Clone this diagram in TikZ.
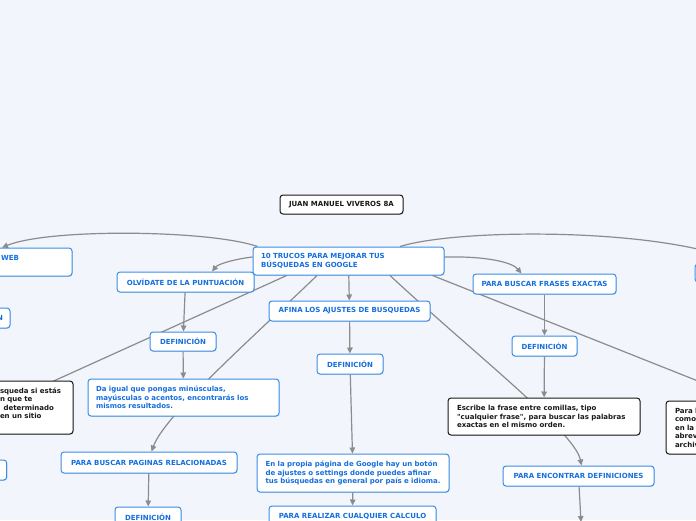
\documentclass[tikz,border=0pt]{standalone}
\usepackage{fontspec}
\newfontfamily\mmfont{DejaVu Sans}
\usetikzlibrary{arrows.meta,shadows}
\definecolor{bgc}{HTML}{F3F5FC}
\definecolor{tblue}{HTML}{156EDE}
\definecolor{bblue}{HTML}{3A8EE8}
\definecolor{lgrey}{HTML}{8C8C8C}
\pgfdeclarelayer{bgl}
\pgfdeclarelayer{edges}
\pgfsetlayers{bgl,edges,main}
\tikzset{
  base/.style={rounded corners=3pt, line width=1pt, fill=white, inner ysep=2pt,
    font=\mmfont\bfseries\fontsize{7}{8.5}\selectfont,
    drop shadow={shadow xshift=0.6pt, shadow yshift=-0.8pt, opacity=0.25}},
  bluebox/.style={base, draw=bblue, text=tblue},
  blackbox/.style={base, draw=black!90, text=black!90},
  conn/.style={draw=lgrey, line width=1.2pt},
  arr/.style={conn, -{Triangle[length=6pt,width=5.5pt]}},
}
\begin{document}
\begin{tikzpicture}[x=1pt,y=-1pt]
\begin{pgfonlayer}{bgl}
\fill[bgc] (0,0) rectangle (696,520);
\end{pgfonlayer}
\useasboundingbox (0,0) rectangle (696,520);

% nodes
\node[blackbox, minimum width=123pt, minimum height=19pt] (title) at (341.5,204.5) {JUAN MANUEL VIVEROS 8A};
\node[bluebox, minimum height=28pt, inner xsep=8pt, text width=175pt, align=left] (central) at (348.5,261)
  {\mbox{10 TRUCOS PARA MEJORAR TUS}\\\mbox{BÚSQUEDAS EN GOOGLE}};
\node[bluebox, minimum width=124pt, minimum height=28pt, align=center] (web) at (10,262) {WEB\\\mbox{}};
\node[bluebox, minimum width=137pt, minimum height=20pt] (olv) at (185.5,282) {OLVÍDATE DE LA PUNTUACIÓN};
\node[bluebox, minimum height=20pt, inner xsep=7pt, text width=18pt, align=right] (nbox) at (-6,318) {N};
\node[bluebox, minimum width=66pt, minimum height=19pt] (def1) at (183,341.5) {DEFINICIÓN};
\node[blackbox, minimum height=53pt, inner xsep=8pt, text width=65pt, align=left] (bleft) at (32.5,407.5)
  {\mbox{squeda si estás}\\\mbox{n que te}\\\mbox{\hspace*{3.5pt}determinado}\\\mbox{en un sitio}\\\mbox{}};
\node[bluebox, minimum height=37pt, inner xsep=8pt, text width=175pt, align=left] (daigual) at (183.5,397.5)
  {\mbox{Da igual que pongas minúsculas,}\\\mbox{mayúsculas o acentos, encontrarás los}\\\mbox{mismos resultados.}};
\node[bluebox, minimum width=36.7pt, minimum height=20pt] (lbox) at (-11.65,470) {};
\node[bluebox, minimum width=176pt, minimum height=21pt] (rel) at (149,462.5) {PARA BUSCAR PAGINAS RELACIONADAS};
\node[bluebox, minimum width=66pt, minimum height=20pt] (defbl) at (148,517) {DEFINICIÓN};
\node[bluebox, minimum width=161pt, minimum height=20pt] (afina) at (349.5,311) {AFINA LOS AJUSTES DE BUSQUEDAS};
\node[bluebox, minimum width=66pt, minimum height=20pt] (def2) at (350,364) {DEFINICIÓN};
\node[bluebox, minimum height=38pt, inner xsep=8.5pt, text width=175pt, align=left] (enla) at (353,473)
  {\mbox{En la propia página de Google hay un botón}\\\mbox{de ajustes o settings donde puedes afinar}\\\mbox{tus búsquedas en general por país e idioma.}};
\node[bluebox, minimum width=167pt, minimum height=20pt] (calc) at (352.5,516) {PARA REALIZAR CUALQUIER CALCULO};
\node[bluebox, minimum width=143pt, minimum height=20pt] (frases) at (544.5,284) {PARA BUSCAR FRASES EXACTAS};
\node[bluebox, minimum width=65pt, minimum height=20pt] (def3) at (544.5,346) {DEFINICIÓN};
\node[blackbox, minimum height=37pt, inner xsep=9pt, text width=174pt, align=left] (escribe) at (544,416.5)
  {\mbox{Escribe la frase entre comillas, tipo}\\\mbox{"cualquier frase", para buscar las palabras}\\\mbox{exactas en el mismo orden.}};
\node[bluebox, minimum width=151pt, minimum height=20pt] (enc) at (578.5,476) {PARA ENCONTRAR DEFINICIONES};
\node[blackbox, minimum height=53pt, inner xsep=9pt, text width=96pt, align=left] (rblack) at (723,427.5)
  {\mbox{Para l}\\\mbox{como}\\\mbox{en la}\\\mbox{abrev}\\\mbox{archiv}};
\node[bluebox, minimum width=95pt, minimum height=18pt] (rbox) at (742.5,273) {};

\coordinate (lfar) at (-70,437);
\coordinate (rfar) at (780,413.6);
\coordinate (belowenc) at (581,522);

% connectors
\begin{pgfonlayer}{edges}
\draw[arr] ([xshift=5pt]central.north west) .. controls (210,230) and (50,228) .. ([xshift=-8pt]web.north);
\draw[arr] ([xshift=51.5pt]central.north) .. controls (460,228) and (660,228) .. (rbox.north);
\draw[arr] ([yshift=4pt]central.west) .. controls (235,259) and (218,264) .. ([xshift=26.5pt]olv.north);
\draw[arr] ([yshift=4pt]central.east) .. controls (485,256) and (512,262) .. ([xshift=-23pt]frases.north);
\draw[arr] (central) -- (afina);
\draw[conn] ([xshift=-61.8pt]central.south) -- (lfar);
\draw[arr] ([xshift=-31.5pt]central.south) .. controls (250,340) and (165,415) .. ([xshift=2.5pt]rel.north);
\draw[arr] ([xshift=41.5pt]central.south) .. controls (470,350) and (575,432) .. ([xshift=3pt]enc.north);
\draw[conn] ([xshift=-12pt]central.south east) -- (rfar);
\draw[arr] (olv) -- (def1);
\draw[arr] (def1) -- (daigual);
\draw[arr] (rel) -- (defbl);
\draw[arr] (afina) -- (def2);
\draw[arr] (def2) -- (enla);
\draw[arr] (enla) -- (calc);
\draw[arr] (frases) -- (def3);
\draw[arr] (def3) -- (escribe);
\draw[arr] (enc) -- (belowenc);
\end{pgfonlayer}
\end{tikzpicture}
\end{document}
